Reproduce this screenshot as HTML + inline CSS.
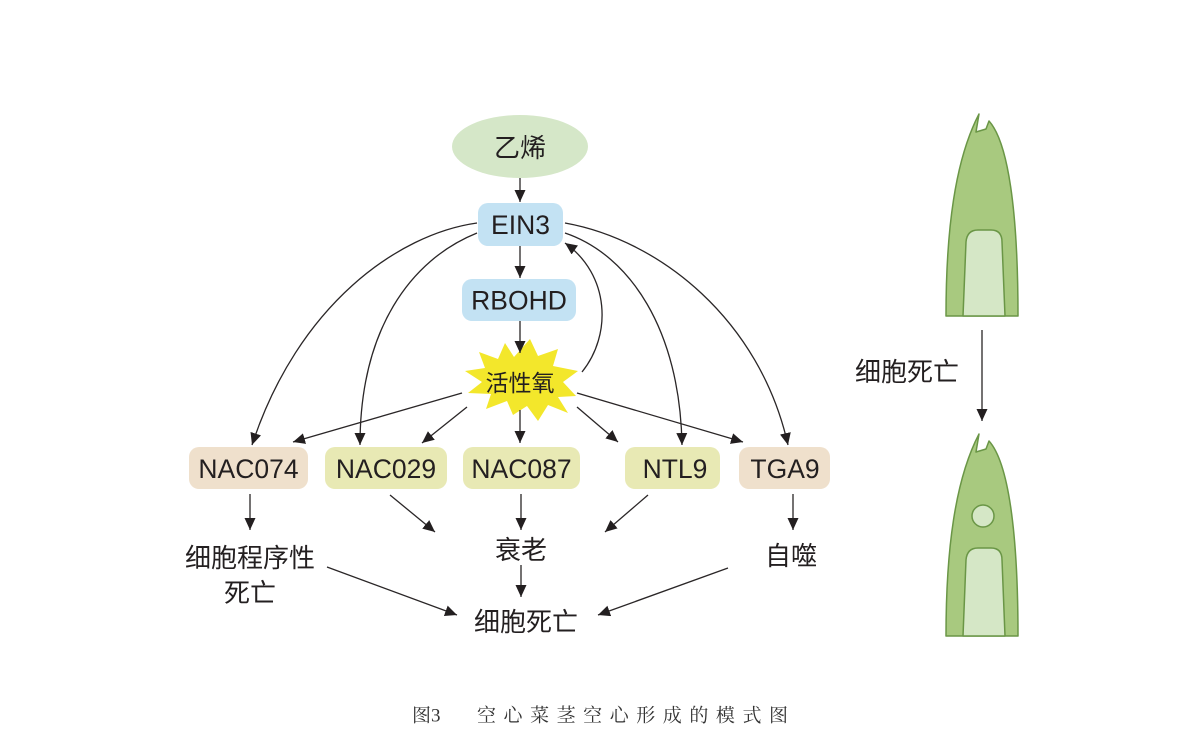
<!DOCTYPE html>
<html>
<head>
<meta charset="utf-8">
<style>
  html,body{margin:0;padding:0;background:#fff;}
  svg{display:block;}
  .lat{font-family:"Liberation Sans","Noto Sans CJK SC",sans-serif;fill:#231f20;}
  .cjk{font-family:"Liberation Sans","Noto Sans CJK SC",sans-serif;fill:#231f20;}
  .cap{font-family:"Liberation Serif","Noto Serif CJK SC",serif;fill:#333;}
</style>
</head>
<body>
<svg width="1200" height="750" viewBox="0 0 1200 750" xmlns="http://www.w3.org/2000/svg">
  <defs>
    <marker id="ah" markerUnits="userSpaceOnUse" markerWidth="14" markerHeight="12" refX="12" refY="5.5" orient="auto">
      <path d="M0,0 L12,5.5 L0,11 Z" fill="#231f20"/>
    </marker>
  </defs>

  <!-- Ethylene ellipse -->
  <ellipse cx="520" cy="146.5" rx="68" ry="31.5" fill="#d5e7c8"/>
  <text class="cjk" x="520" y="148" font-size="26" text-anchor="middle" dominant-baseline="central">乙烯</text>

  <!-- EIN3 / RBOHD -->
  <rect x="478" y="203" width="85" height="43" rx="10" fill="#c3e2f3"/>
  <text class="lat" x="520.5" y="225" font-size="26.5" text-anchor="middle" dominant-baseline="central">EIN3</text>
  <rect x="462" y="279" width="114" height="42" rx="10" fill="#c3e2f3"/>
  <text class="lat" x="519" y="300.5" font-size="26.5" text-anchor="middle" dominant-baseline="central">RBOHD</text>

  <!-- Star -->
  <polygon fill="#f3e72b" points="530,339 538,356 558,349 553,366 578,371 563,382 576,396 558,397 568,413 548,405 538,421 527,406 513,415 507,401 486,409 491,394 468,393 482,382 465,371 485,368 479,352 498,359 505,343 514,357"/>
  <text class="cjk" x="520" y="383" font-size="23" text-anchor="middle" dominant-baseline="central">活性氧</text>

  <!-- Row of TF boxes -->
  <rect x="189" y="447" width="119" height="42" rx="10" fill="#efe0cc"/>
  <text class="lat" x="248.5" y="469" font-size="26.5" text-anchor="middle" dominant-baseline="central">NAC074</text>
  <rect x="325" y="447" width="122" height="42" rx="10" fill="#e8e9b4"/>
  <text class="lat" x="386" y="469" font-size="26.5" text-anchor="middle" dominant-baseline="central">NAC029</text>
  <rect x="463" y="447" width="117" height="42" rx="10" fill="#e8e9b4"/>
  <text class="lat" x="521.5" y="469" font-size="26.5" text-anchor="middle" dominant-baseline="central">NAC087</text>
  <rect x="625" y="447" width="95" height="42" rx="10" fill="#e8e9b4"/>
  <text class="lat" x="675" y="469" font-size="26.5" text-anchor="middle" dominant-baseline="central">NTL9</text>
  <rect x="739" y="447" width="91" height="42" rx="10" fill="#efe0cc"/>
  <text class="lat" x="785" y="469" font-size="26.5" text-anchor="middle" dominant-baseline="central">TGA9</text>

  <!-- Outcome labels -->
  <text class="cjk" x="250" y="558" font-size="26" text-anchor="middle" dominant-baseline="central">细胞程序性</text>
  <text class="cjk" x="250" y="593" font-size="26" text-anchor="middle" dominant-baseline="central">死亡</text>
  <text class="cjk" x="521" y="550" font-size="26" text-anchor="middle" dominant-baseline="central">衰老</text>
  <text class="cjk" x="791" y="556" font-size="26" text-anchor="middle" dominant-baseline="central">自噬</text>
  <text class="cjk" x="526" y="622" font-size="26" text-anchor="middle" dominant-baseline="central">细胞死亡</text>

  <!-- Connectors -->
  <g stroke="#2a2627" stroke-width="1.3" fill="none" marker-end="url(#ah)">
    <line x1="520" y1="178" x2="520" y2="202"/>
    <line x1="520" y1="246" x2="520" y2="278"/>
    <line x1="520" y1="321" x2="520" y2="353"/>

    <path d="M477,223 C398,234 298,305 252,445"/>
    <path d="M477,233 C410,260 360,330 360,445"/>
    <path d="M565,223 C660,240 760,320 788,445"/>
    <path d="M565,233 C630,255 680,330 682,445"/>
    <path d="M582,372 C612,335 610,275 565,243"/>

    <line x1="462" y1="393" x2="293" y2="442"/>
    <line x1="467" y1="407" x2="422" y2="443"/>
    <line x1="520" y1="410" x2="520" y2="443"/>
    <line x1="577" y1="407" x2="618" y2="442"/>
    <line x1="577" y1="393" x2="743" y2="442"/>

    <line x1="250" y1="494" x2="250" y2="530"/>
    <line x1="390" y1="495" x2="435" y2="532"/>
    <line x1="521" y1="494" x2="521" y2="530"/>
    <line x1="648" y1="495" x2="605" y2="532"/>
    <line x1="793" y1="494" x2="793" y2="530"/>

    <line x1="327" y1="567" x2="457" y2="615"/>
    <line x1="521" y1="565" x2="521" y2="597"/>
    <line x1="728" y1="568" x2="598" y2="615"/>

    <line x1="982" y1="330" x2="982" y2="421"/>
  </g>

  <!-- Stem 1 -->
  <g stroke="#6a9646" stroke-width="1.5" stroke-linejoin="round">
    <path d="M946,316 C946,230 955,160 979,114 L976,132 L986,129 L989,121 C1008,142 1018,210 1018,316 Z" fill="#a8c97f"/>
    <path d="M963,316 L966,242 Q967,230 978,230 L991,230 Q1002,230 1002,242 L1005,316 Z" fill="#d5e7c6"/>
  </g>
  <!-- Stem 2 -->
  <g stroke="#6a9646" stroke-width="1.5" stroke-linejoin="round" transform="translate(0,320)">
    <path d="M946,316 C946,230 955,160 979,114 L976,132 L986,129 L989,121 C1008,142 1018,210 1018,316 Z" fill="#a8c97f"/>
    <path d="M963,316 L966,240 Q967,228 978,228 L991,228 Q1002,228 1002,240 L1005,316 Z" fill="#d5e7c6"/>
    <circle cx="983" cy="196" r="11" fill="#d5e7c6"/>
  </g>
  <text class="cjk" x="907" y="372" font-size="26" text-anchor="middle" dominant-baseline="central">细胞死亡</text>

  <!-- Caption -->
  <text class="cap" x="412" y="716" font-size="19" dominant-baseline="central">图3</text>
  <text class="cap" x="477" y="716" font-size="19" dominant-baseline="central" textLength="311" lengthAdjust="spacing">空心菜茎空心形成的模式图</text>
</svg>
</body>
</html>
